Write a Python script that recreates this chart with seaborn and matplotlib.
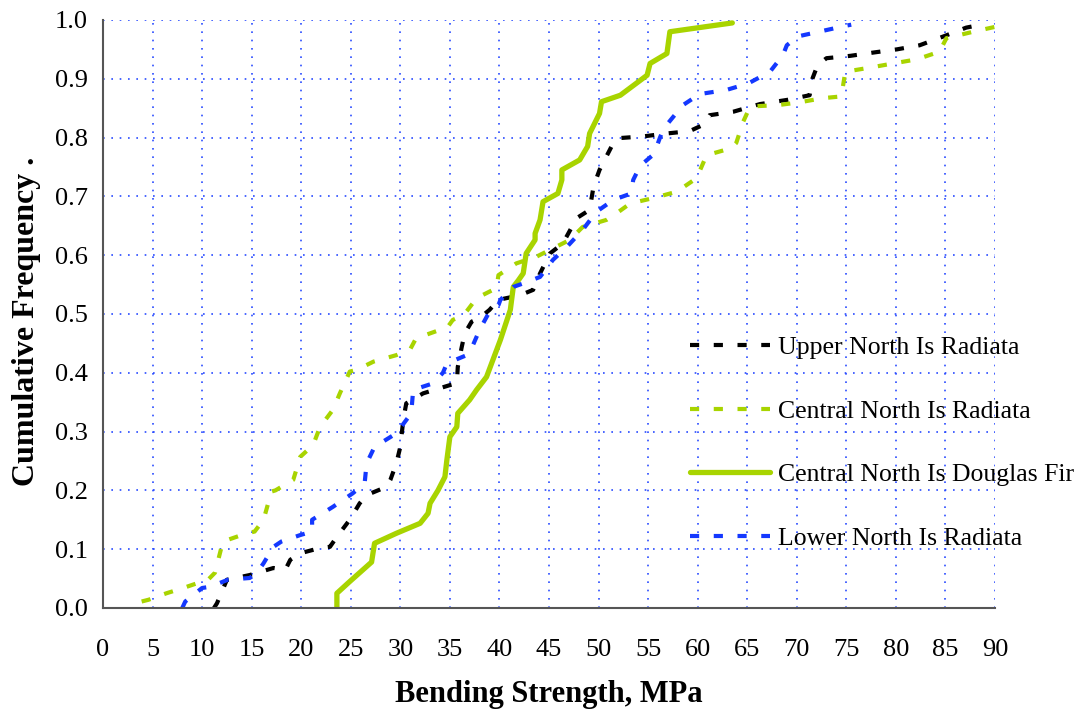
import pandas as pd
import matplotlib
matplotlib.use("Agg")
import matplotlib.pyplot as plt
import seaborn as sns
from matplotlib.ticker import MultipleLocator

# values (MPa, cumulative frequency)
upper_x = [11.2, 11.5, 12.5, 13.1, 14.8, 17.2, 18.4, 18.9, 19.9, 21.9, 22.9, 23.6, 24.9, 25.9, 26.6,
           28.6, 29.0, 29.6, 30.0, 30.3, 30.6, 32.3, 35.0, 35.7, 35.8, 36.2, 36.5, 37.2, 38.0, 39.0,
           39.9, 42.1, 43.4, 44.1, 45.1, 46.4, 47.8, 49.1, 49.5, 50.1, 51.5, 52.0, 54.5, 56.9, 59.2,
           60.6, 61.2, 63.6, 66.3, 69.0, 71.3, 71.6, 72.1, 73.0, 75.4, 77.9, 80.1, 82.4, 84.8, 87.1, 88.0]
upper_y = [0.0, 0.008, 0.048, 0.05, 0.056, 0.068, 0.065, 0.082, 0.093, 0.102, 0.104, 0.121, 0.15, 0.178, 0.192,
           0.206, 0.218, 0.246, 0.274, 0.32, 0.348, 0.365, 0.379, 0.382, 0.41, 0.444, 0.467, 0.487, 0.493, 0.507,
           0.524, 0.532, 0.541, 0.569, 0.603, 0.62, 0.663, 0.677, 0.717, 0.745, 0.791, 0.799, 0.802, 0.807, 0.811,
           0.822, 0.838, 0.844, 0.857, 0.864, 0.872, 0.901, 0.923, 0.935, 0.939, 0.945, 0.95, 0.957, 0.972, 0.987, 0.99]

central_x = [3.9, 4.6, 6.4, 8.1, 10.0, 10.6, 11.3, 12.1, 14.5, 15.3, 16.2, 17.0, 17.4, 19.2, 19.9,
             21.2, 21.9, 23.2, 23.9, 24.9, 25.6, 27.3, 29.6, 31.0, 31.6, 32.0, 34.0, 34.7, 35.3, 36.4,
             37.7, 39.7, 39.9, 41.7, 43.8, 45.1, 47.1, 48.4, 50.8, 51.8, 53.2, 55.5, 57.9, 59.9, 60.9,
             63.4, 63.9, 64.6, 65.3, 68.0, 70.3, 72.6, 74.5, 74.9, 77.4, 79.7, 82.1, 84.4, 85.1, 87.8, 90.2]
central_y = [0.011, 0.014, 0.025, 0.034, 0.045, 0.048, 0.06, 0.113, 0.127, 0.13, 0.15, 0.198, 0.2, 0.218, 0.257,
             0.277, 0.308, 0.337, 0.365, 0.402, 0.405, 0.419, 0.43, 0.44, 0.459, 0.461, 0.473, 0.476, 0.49, 0.498,
             0.527, 0.544, 0.566, 0.586, 0.598, 0.609, 0.626, 0.648, 0.66, 0.671, 0.688, 0.697, 0.708, 0.731, 0.77,
             0.782, 0.791, 0.827, 0.853, 0.855, 0.86, 0.867, 0.87, 0.912, 0.919, 0.926, 0.933, 0.946, 0.969, 0.98, 0.989]

fir_x = [23.6, 23.6, 24.9, 27.1, 27.4, 29.6, 32.0, 32.8, 33.0, 33.8, 34.5, 34.7, 35.0, 35.7, 35.8,
         37.0, 37.7, 38.7, 40.1, 41.1, 41.4, 41.9, 42.4, 42.7, 43.6, 43.6, 44.1, 44.4, 45.9, 46.3,
         46.3, 48.1, 48.9, 49.1, 50.1, 50.3, 52.2, 54.9, 55.2, 56.9, 57.2, 63.5]
fir_y = [0.0, 0.025, 0.045, 0.078, 0.11, 0.127, 0.144, 0.161, 0.178, 0.2, 0.223, 0.252, 0.291, 0.308, 0.331,
         0.354, 0.371, 0.393, 0.456, 0.507, 0.546, 0.557, 0.569, 0.603, 0.626, 0.637, 0.66, 0.691, 0.705, 0.728,
         0.745, 0.762, 0.785, 0.807, 0.841, 0.861, 0.872, 0.906, 0.926, 0.943, 0.98, 0.995]

lower_x = [8.0, 8.3, 10.0, 10.8, 12.6, 14.8, 15.5, 16.2, 17.2, 18.0, 19.9, 21.1, 21.1, 23.2, 25.2,
           26.4, 26.6, 27.4, 29.6, 31.1, 31.3, 33.3, 34.3, 34.7, 36.7, 37.2, 38.0, 39.0, 39.9, 40.1,
           41.4, 42.4, 44.1, 45.4, 46.8, 48.4, 49.8, 51.5, 53.3, 53.5, 54.2, 55.6, 56.2, 56.6, 58.5,
           60.2, 62.9, 65.1, 67.3, 68.6, 69.0, 70.1, 72.5, 74.9, 75.5]
lower_y = [0.0, 0.011, 0.034, 0.036, 0.048, 0.051, 0.059, 0.076, 0.104, 0.113, 0.124, 0.13, 0.15, 0.172, 0.195,
           0.212, 0.246, 0.274, 0.297, 0.331, 0.371, 0.382, 0.4, 0.416, 0.43, 0.442, 0.473, 0.504, 0.515, 0.524,
           0.546, 0.552, 0.563, 0.592, 0.614, 0.643, 0.674, 0.694, 0.705, 0.728, 0.752, 0.772, 0.8, 0.816, 0.855,
           0.874, 0.881, 0.892, 0.912, 0.94, 0.957, 0.972, 0.981, 0.99, 0.992]

labels = ["Upper North Is Radiata", "Central North Is Radiata",
          "Central North Is Douglas Fir", "Lower North Is Radiata"]

sns.set_style("white")
plt.rcParams['font.family'] = ['Liberation Serif', 'DejaVu Serif']
plt.rcParams['text.color'] = 'black'
plt.rcParams['axes.labelcolor'] = 'black'
plt.rcParams['xtick.color'] = 'black'
plt.rcParams['ytick.color'] = 'black'

fig = plt.figure(figsize=(10.83, 7.11), dpi=100)
ax = fig.add_axes([0.0951, 0.1449, 0.8236, 0.8270])

green = '#a8d400'
blue = '#1438ff'

sns.lineplot(x=upper_x, y=upper_y, ax=ax, sort=False, estimator=None, color='black',
             linewidth=3.0, label=labels[0])
sns.lineplot(x=central_x, y=central_y, ax=ax, sort=False, estimator=None, color=green,
             linewidth=3.0, label=labels[1])
sns.lineplot(x=fir_x, y=fir_y, ax=ax, sort=False, estimator=None, color=green,
             linewidth=3.8, label=labels[2])
sns.lineplot(x=lower_x, y=lower_y, ax=ax, sort=False, estimator=None, color=blue,
             linewidth=3.0, label=labels[3])

for i, ln in enumerate(ax.get_lines()):
    if i != 2:
        ln.set_dashes((2.2, 3.5))
        ln.set_dash_capstyle('butt')

ax.set_xlim(0, 90)
ax.set_ylim(0, 1.0)
ax.xaxis.set_major_locator(MultipleLocator(5))
ax.xaxis.set_minor_locator(MultipleLocator(1))
ax.yaxis.set_minor_locator(MultipleLocator(0.025))
ax.set_yticks([i / 10 for i in range(11)])
ax.set_yticklabels([f"{i / 10:.1f}" for i in range(11)])

ax.grid(True, which='major', color='#2a4cff', linestyle=(0, (1, 4)), linewidth=1.2)
for s in ['top', 'right']:
    ax.spines[s].set_visible(False)
for s in ['left', 'bottom']:
    ax.spines[s].set_color('#555555')
    ax.spines[s].set_linewidth(1.5)
ax.tick_params(axis='both', which='both', direction='in', color='#333333', labelcolor='black', width=1.2)
ax.tick_params(axis='both', which='major', length=5, labelsize=19)
ax.tick_params(axis='both', which='minor', length=5)
ax.tick_params(axis='x', which='major', pad=22)
ax.tick_params(axis='y', which='major', pad=11)

ax.set_xlabel('Bending Strength, MPa', fontsize=22, fontweight='bold', labelpad=14)
ax.set_ylabel('Cumulative Frequency .', fontsize=23, fontweight='bold', labelpad=10)
ax.yaxis.label.set_y(0.488)

ax.legend(loc='upper left', bbox_to_anchor=(0.658, 0.4626), frameon=False, fontsize=18.5,
          handlelength=3.11, handletextpad=0.31, labelspacing=1.58, borderpad=0, borderaxespad=0,
          labelcolor='black')

fig.savefig('out.png', dpi=100)
